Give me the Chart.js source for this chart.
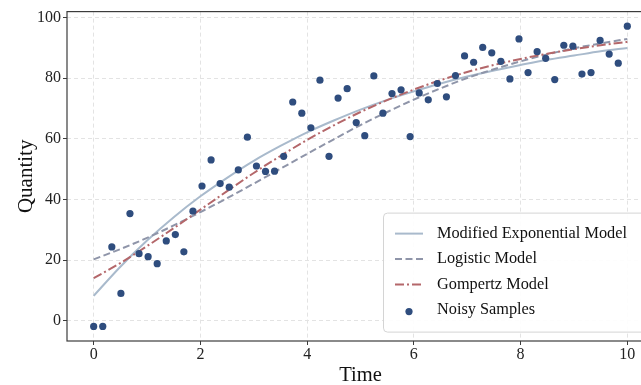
<!DOCTYPE html>
<html>
<head>
<meta charset="utf-8">
<title>Growth models</title>
<script src="https://cdn.jsdelivr.net/npm/chart.js@4/dist/chart.umd.min.js"></script>
<style>
  html, body { margin: 0; padding: 0; background: #ffffff; overflow: hidden; }
  canvas { display: block; }
</style>
</head>
<body>
<canvas id="growth" width="660" height="385"></canvas>
<script>
// Observed samples
const sampleTime = [
  0, 0.17, 0.34, 0.51, 0.68, 0.85, 1.02, 1.19, 1.36, 1.53,
  1.69, 1.86, 2.03, 2.20, 2.37, 2.54, 2.71, 2.88, 3.05, 3.22,
  3.39, 3.56, 3.73, 3.90, 4.07, 4.24, 4.41, 4.58, 4.75, 4.92,
  5.08, 5.25, 5.42, 5.59, 5.76, 5.93, 6.10, 6.27, 6.44, 6.61,
  6.78, 6.95, 7.12, 7.29, 7.46, 7.63, 7.80, 7.97, 8.14, 8.31,
  8.47, 8.64, 8.81, 8.98, 9.15, 9.32, 9.49, 9.66, 9.83, 10
];
const sampleQuantity = [
  -1.9, -1.9, 24.3, 9.0, 35.3, 22.1, 21.1, 18.8, 26.3, 28.4,
  22.7, 36.1, 44.4, 53.0, 45.2, 44.0, 49.7, 60.5, 51.0, 49.2,
  49.3, 54.2, 72.1, 68.4, 63.6, 79.3, 54.2, 73.4, 76.5, 65.3,
  61.0, 80.7, 68.4, 74.9, 76.1, 60.7, 75.1, 72.8, 78.2, 73.8,
  80.8, 87.3, 85.2, 90.1, 88.3, 85.5, 79.7, 92.9, 81.8, 88.7,
  86.5, 79.5, 90.8, 90.5, 81.3, 81.8, 92.4, 87.9, 84.9, 97.1
];

// Fitted model curves
const curveTime = [0, 0.5, 1, 1.5, 2, 2.5, 3, 3.5, 4, 4.5, 5, 5.5, 6, 6.5, 7, 7.5, 8, 8.5, 9, 9.5, 10];
const modExpValues   = [8.2, 17.8, 26.4, 34.1, 41.0, 47.1, 52.7, 57.6, 62.1, 66.0, 69.6, 72.8, 75.6, 78.2, 80.5, 82.5, 84.3, 86.0, 87.4, 88.8, 89.9];
const logisticValues = [20.2, 23.6, 27.3, 31.4, 35.8, 40.4, 45.2, 50.1, 55.0, 59.8, 64.5, 68.8, 72.9, 76.6, 80.0, 82.9, 85.5, 87.8, 89.8, 91.4, 92.9];
const gompertzValues = [14.0, 19.0, 24.6, 30.5, 36.6, 42.7, 48.7, 54.3, 59.6, 64.4, 68.8, 72.7, 76.2, 79.3, 82.0, 84.3, 86.3, 88.0, 89.5, 90.8, 91.9];

// Axis ticks
const timeTicks = [0, 2, 4, 6, 8, 10];
const quantityTicks = [0, 20, 40, 60, 80, 100];

const SERIF = "'Liberation Serif', 'Times New Roman', Times, serif";
Chart.defaults.font.family = SERIF;
Chart.defaults.color = '#222222';

const toPoints = (xs, ys) => xs.map((x, i) => ({ x: x, y: ys[i] }));

const curveStyle = {
  showLine: true,
  pointRadius: 0,
  pointHoverRadius: 0,
  borderWidth: 2,
  fill: false,
  cubicInterpolationMode: 'monotone'
};

// Axes frame: all four sides, drawn above the curves
const framePlugin = {
  id: 'frame',
  afterDatasetsDraw(chart) {
    const { ctx, chartArea: a } = chart;
    ctx.save();
    ctx.strokeStyle = '#3c3c3c';
    ctx.lineWidth = 1.2;
    ctx.setLineDash([]);
    ctx.strokeRect(a.left, a.top, a.right - a.left, a.bottom - a.top);
    ctx.restore();
  }
};

// Boxed legend inside the lower right of the plot
const insetLegend = {
  id: 'insetLegend',
  afterDraw(chart) {
    const { ctx, chartArea: a } = chart;
    const sets = chart.data.datasets;
    const left = a.left + 316;
    const top = a.top + 201;
    const width = 275;
    const height = 119;
    const rowStart = top + 21;
    const rowGap = 25.5;
    ctx.save();
    ctx.beginPath();
    ctx.roundRect(left + 0.5, top + 0.5, width, height, 4);
    ctx.fillStyle = 'rgba(255,255,255,0.9)';
    ctx.fill();
    ctx.strokeStyle = '#d4d4d4';
    ctx.lineWidth = 1;
    ctx.stroke();
    ctx.font = '16.3px ' + SERIF;
    ctx.textBaseline = 'middle';
    ctx.textAlign = 'left';
    sets.forEach((ds, i) => {
      const y = rowStart + i * rowGap;
      const hx0 = left + 12, hx1 = left + 40;
      if (ds.showLine) {
        ctx.beginPath();
        ctx.setLineDash(ds.borderDash || []);
        ctx.strokeStyle = ds.borderColor;
        ctx.lineWidth = ds.borderWidth;
        ctx.moveTo(hx0, y);
        ctx.lineTo(hx1, y);
        ctx.stroke();
        ctx.setLineDash([]);
      } else {
        ctx.beginPath();
        ctx.fillStyle = ds.backgroundColor;
        ctx.arc((hx0 + hx1) / 2, y + 1.5, ds.pointRadius, 0, Math.PI * 2);
        ctx.fill();
      }
      ctx.fillStyle = '#111111';
      ctx.fillText(ds.label, left + 54, y);
    });
    ctx.restore();
  }
};

new Chart(document.getElementById('growth'), {
  type: 'scatter',
  data: {
    datasets: [
      Object.assign({}, curveStyle, {
        label: 'Modified Exponential Model',
        data: toPoints(curveTime, modExpValues),
        borderColor: '#a9bacc',
        order: 3
      }),
      Object.assign({}, curveStyle, {
        label: 'Logistic Model',
        data: toPoints(curveTime, logisticValues),
        borderColor: '#8f95a9',
        borderDash: [7, 3.5],
        order: 2
      }),
      Object.assign({}, curveStyle, {
        label: 'Gompertz Model',
        data: toPoints(curveTime, gompertzValues),
        borderColor: '#b4676a',
        borderDash: [9, 3, 2, 3],
        order: 1
      }),
      {
        label: 'Noisy Samples',
        data: toPoints(sampleTime, sampleQuantity),
        showLine: false,
        backgroundColor: '#2f4d7e',
        borderColor: '#2f4d7e',
        borderWidth: 0,
        pointRadius: 3.6,
        pointHoverRadius: 3.6,
        order: 0
      }
    ]
  },
  options: {
    responsive: false,
    animation: false,
    devicePixelRatio: 1,
    events: [],
    layout: { padding: { top: 10, right: 6, left: 0, bottom: 0 } },
    plugins: {
      legend: { display: false },
      tooltip: { enabled: false },
      title: { display: false }
    },
    scales: {
      x: {
        type: 'linear',
        min: -0.5,
        max: 10.5,
        afterBuildTicks: (scale) => { scale.ticks = timeTicks.map(v => ({ value: v })); },
        afterFit: (scale) => { scale.height = 44; },
        ticks: {
          font: { size: 16 },
          color: '#222222',
          padding: 0,
          maxRotation: 0,
          autoSkip: false
        },
        grid: {
          color: '#e3e3e3',
          lineWidth: 1,
          tickColor: '#3c3c3c',
          tickLength: 4,
          tickWidth: 1,
          tickBorderDash: []
        },
        border: { display: false, dash: [4, 3] },
        title: {
          display: true,
          text: 'Time',
          font: { size: 20.5, lineHeight: 1 },
          color: '#111111',
          padding: { top: 0, bottom: -1 }
        }
      },
      y: {
        type: 'linear',
        min: -6.7,
        max: 101.9,
        afterBuildTicks: (scale) => { scale.ticks = quantityTicks.map(v => ({ value: v })); },
        afterFit: (scale) => { scale.width = 67; },
        ticks: {
          font: { size: 16 },
          color: '#222222',
          padding: 2,
          autoSkip: false
        },
        grid: {
          color: '#e3e3e3',
          lineWidth: 1,
          tickColor: '#3c3c3c',
          tickLength: 4,
          tickWidth: 1,
          tickBorderDash: []
        },
        border: { display: false, dash: [4, 3] },
        title: {
          display: true,
          text: 'Quantity',
          font: { size: 21, lineHeight: 1 },
          color: '#111111',
          padding: { top: 16, bottom: 0 }
        }
      }
    }
  },
  plugins: [framePlugin, insetLegend]
});
</script>
</body>
</html>
